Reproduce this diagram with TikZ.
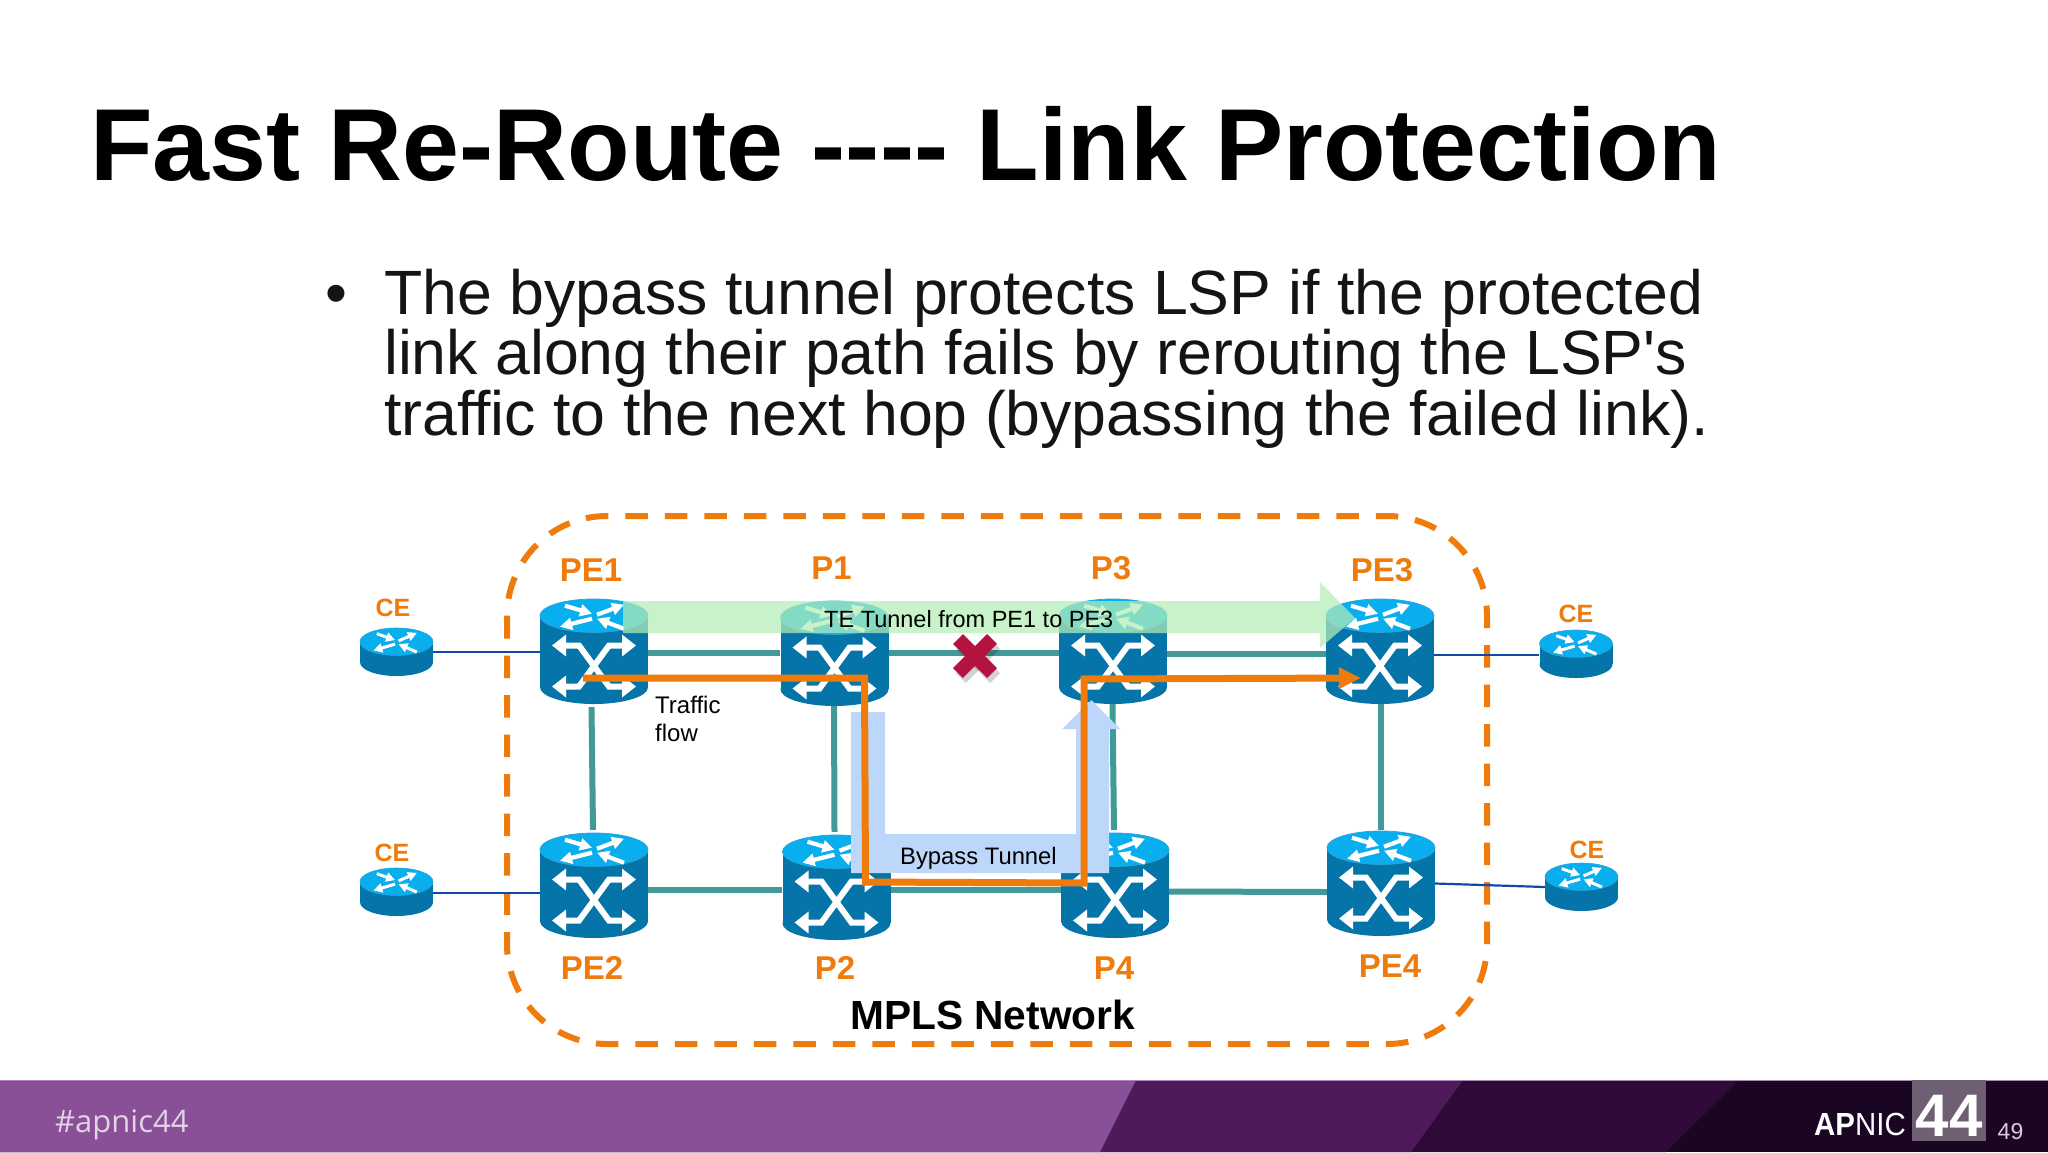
\documentclass[tikz,border=0pt]{standalone}
\usepackage{fontspec}
\setmainfont{Liberation Sans}
\newfontfamily\lsans{Liberation Sans}
\newfontfamily\footfont{Open Sans}
\usetikzlibrary{arrows.meta}
\definecolor{rbody}{HTML}{0575A9}
\definecolor{rtop}{HTML}{08AEEE}
\definecolor{rrim}{HTML}{2AA6D6}
\definecolor{linkteal}{HTML}{3F9A98}
\definecolor{linkblue}{HTML}{1248A8}
\definecolor{apnicorange}{HTML}{EE7B0C}
\definecolor{greenarrow}{HTML}{B4EDB6}
\definecolor{bluearrow}{HTML}{BDD7FB}
\definecolor{crossred}{HTML}{B5133F}
\definecolor{bandA}{HTML}{8A5097}
\definecolor{bandB}{HTML}{4E1A5A}
\definecolor{bandC}{HTML}{2E0A36}
\definecolor{bandD}{HTML}{1A0522}
\definecolor{bandsq}{HTML}{6F5F72}
\tikzset{
  fs/.style={font=\lsans\fontsize{#1}{#1}\selectfont},
  fsb/.style={font=\lsans\fontsize{#1}{#1}\selectfont\bfseries},
  orangelabel/.style={text=apnicorange,inner sep=0pt,anchor=base},
  plain/.style={inner sep=0pt,anchor=base west,text=black},
  routerbox/.style={inner sep=0pt,draw=none,fill=none},
  tealink/.style={draw=linkteal,line width=6pt},
  bluelink/.style={draw=linkblue,line width=2.2pt},
  trafficpath/.style={draw=apnicorange,line width=7pt,line join=miter},
}
\newcommand\routerglyph[4]{%
  \begin{scope}[xscale=#1,yscale=#2,white,line width=#3pt]
    \draw[-{Triangle[length=#4pt,width=#4pt]}] (-29,-10) -- (-2,-2);
    \draw[-{Triangle[length=#4pt,width=#4pt]}] (3,-1) -- (30,-11);
    \draw[-{Triangle[length=#4pt,width=#4pt]}] (-2,3) -- (-34,11);
    \draw[-{Triangle[length=#4pt,width=#4pt]}] (30,13) -- (3,3);
  \end{scope}}
\newcommand\bigrouter[3]{%
  \begin{scope}[shift={(#2,#3)}]
    \node[routerbox,minimum width=108pt,minimum height=105pt] (#1) at (0,52.5) {};
    \fill[rbody] (-54,16.7) rectangle (54,88.3);
    \fill[rbody] (0,88.3) ellipse (54 and 16.7);
    \fill[rtop,draw=rrim,line width=.8pt] (0,16.7) ellipse (54 and 16.7);
    \begin{scope}[shift={(0,16.7)}]\routerglyph{1}{1}{4.2}{12}\end{scope}
    \draw[white,line width=6pt,line join=miter,{Triangle[length=14pt,width=21pt]}-{Triangle[length=14pt,width=21pt]}]
      (-42,46.5) -- (-15,46.5) -- (15,87.5) -- (42,87.5);
    \draw[white,line width=6pt,line join=miter,{Triangle[length=14pt,width=21pt]}-{Triangle[length=14pt,width=21pt]}]
      (42,46.5) -- (15,46.5) -- (-15,87.5) -- (-42,87.5);
  \end{scope}}
\newcommand\smallrouter[3]{%
  \begin{scope}[shift={(#2,#3)}]
    \node[routerbox,minimum width=73pt,minimum height=48pt] (#1) at (0,24) {};
    \fill[rbody] (-36.5,13.7) rectangle (36.5,34.3);
    \fill[rbody] (0,34.3) ellipse (36.5 and 13.7);
    \fill[rtop,draw=rrim,line width=.6pt] (0,13.7) ellipse (36.5 and 13.7);
    \begin{scope}[shift={(0,13.7)}]\routerglyph{.68}{.8}{3}{9}\end{scope}
  \end{scope}}
\begin{document}
\begin{tikzpicture}[x=1pt,y=-1pt]
\useasboundingbox (0,0) rectangle (2048,1152);
\fill[white] (0,0) rectangle (2048,1152);
% footer
\fill[bandD] (0,1080) rectangle (2048,1152);
\fill[bandC] (0,1080) -- (1739,1080) -- (1666,1152) -- (0,1152) -- cycle;
\fill[bandB] (0,1080) -- (1463,1080) -- (1411,1152) -- (0,1152) -- cycle;
\fill[bandA] (0,1080) -- (1136,1080) -- (1100,1152) -- (0,1152) -- cycle;
\fill[bandA!70!white] (0,1079.5) rectangle (2048,1081);
\fill[bandsq] (1912,1080) rectangle (1986,1141);
\node[inner sep=0pt,anchor=base west,text=white!75!bandA,font=\footfont\fontsize{31}{31}\selectfont] (hash) at (55,1132) {\#apnic44};
\node[inner sep=0pt,anchor=base east,text=white,xscale=.92] (apnic) at (1906,1135) {\lsans\fontsize{32}{32}\selectfont\bfseries AP\mdseries NIC};
\node[inner sep=0pt,anchor=base,text=white,fsb=60] (num) at (1949,1136) {44};
\node[inner sep=0pt,anchor=base,text=white!70!bandA,fs=23] (page) at (2010.5,1139) {49};
% title and text
\node[plain,fsb=102.3] (title) at (90,180) {Fast Re-Route ---- Link Protection};
\node[plain,fs=62.6,text=black!92] (bullet) at (325,314) {•};
\node[plain,fs=62.6,text=black!92] (l1) at (384,314) {The bypass tunnel protects LSP if the protected};
\node[plain,fs=62.6,text=black!92] (l2) at (384,374.5) {link along their path fails by rerouting the LSP's};
\node[plain,fs=62.6,text=black!92] (l3) at (384,435) {traffic to the next hop (bypassing the failed link).};
% network boundary
\draw[apnicorange,line width=6pt,rounded corners=100pt,dash pattern=on 22.5pt off 17pt] (507,516) rectangle (1487,1044);
% routers
\bigrouter{PE1}{594}{599}
\bigrouter{P1}{834.5}{601}
\bigrouter{P3}{1113}{599}
\bigrouter{PE3}{1380}{599}
\bigrouter{PE2}{594}{833}
\bigrouter{P2}{836.5}{835}
\bigrouter{P4}{1115}{833}
\bigrouter{PE4}{1381}{831}
\smallrouter{CEa}{396.5}{628}
\smallrouter{CEb}{396.5}{868}
\smallrouter{CEc}{1576}{630}
\smallrouter{CEd}{1581.5}{863}
% links
\draw[bluelink] (CEa.east) -- ([yshift=-.5pt]PE1.west);
\draw[bluelink] ([yshift=-1pt]CEb.east) -- ([yshift=-7.5pt]PE2.west);
\draw[bluelink] ([yshift=-3.5pt]PE3.east) -- ([yshift=-1pt]CEc.west);
\draw[bluelink] (PE4.east) -- (CEd.west);
\draw[tealink] ([yshift=-1.5pt]PE1.east) -- ([yshift=.5pt]P1.west);
\draw[tealink] ([yshift=.5pt]P1.east) -- ([yshift=-1.5pt]P3.west);
\draw[tealink] ([yshift=-2pt]P3.east) -- ([yshift=-2pt]PE3.west);
\draw[tealink] ([yshift=-4pt]PE2.east) -- ([yshift=-2pt]P2.west);
\draw[tealink] ([yshift=-2pt]P2.east) -- ([yshift=-4pt]P4.west);
\draw[tealink] ([yshift=-6pt]P4.east) -- ([yshift=-8.5pt]PE4.west);
\draw[tealink] ([xshift=-2.5pt,yshift=-3pt]PE1.south) -- ([xshift=-1pt,yshift=3pt]PE2.north);
\draw[tealink] ([xshift=-.5pt]P1.south) -- ([xshift=-2pt,yshift=3pt]P2.north);
\draw[tealink] ([xshift=-.5pt]P3.south) -- ([xshift=-1pt,yshift=3pt]P4.north);
\draw[tealink] ([xshift=1pt]PE3.south) -- ([yshift=1pt]PE4.north);
% tunnels
\fill[greenarrow,opacity=.72] (623,601) -- (1320,601) -- (1320,582) -- (1355,618) -- (1320,648) -- (1320,633) -- (623,633) -- cycle;
\fill[bluearrow] (851,712) -- (885,712) -- (885,834) -- (1076,834) -- (1076,729) -- (1062,729) -- (1091.5,700) -- (1120,729) -- (1109,729) -- (1109,873) -- (851,873) -- cycle;
% traffic flow
\coordinate (flowstart) at (583,678);
\coordinate (flowa) at (864.5,678);
\coordinate (flowb) at (865.5,882);
\coordinate (flowc) at (1084,883);
\coordinate (flowd) at (1084,679);
\coordinate (flowend) at (1361,678);
\draw[trafficpath,-{Triangle[length=22pt,width=20pt]}] (flowstart) -- (flowa) -- (flowb) -- (flowc) -- (flowd) -- (flowend);
% failure cross
\begin{scope}[shift={(3,5)},black,opacity=.18,line width=14pt]
\draw (958,639) -- (992,673); \draw (992,639) -- (958,673);
\end{scope}
\draw[crossred,line width=14pt] (958,639) -- (992,673);
\draw[crossred,line width=14pt] (992,639) -- (958,673);
% labels
\node[orangelabel,fsb=33] (lPE1) at (591,581.5) {PE1};
\node[orangelabel,fsb=33] (lP1) at (831.5,579) {P1};
\node[orangelabel,fsb=33] (lP3) at (1111,579) {P3};
\node[orangelabel,fsb=33] (lPE3) at (1382,581) {PE3};
\node[orangelabel,fsb=33] (lPE2) at (592,979) {PE2};
\node[orangelabel,fsb=33] (lP2) at (835,979) {P2};
\node[orangelabel,fsb=33] (lP4) at (1114,979) {P4};
\node[orangelabel,fsb=33] (lPE4) at (1390,977.5) {PE4};
\node[orangelabel,fsb=25] (lCEa) at (393,616) {CE};
\node[orangelabel,fsb=25] (lCEb) at (392,861) {CE};
\node[orangelabel,fsb=25] (lCEc) at (1576,622) {CE};
\node[orangelabel,fsb=25] (lCEd) at (1587,858) {CE};
\node[plain,fs=23.5] (te) at (824,627) {TE Tunnel from PE1 to PE3};
\node[plain,fs=24] (tfa) at (655,713) {Traffic};
\node[plain,fs=24] (tfb) at (655,741) {flow};
\node[plain,fs=23.8] (by) at (900,864) {Bypass Tunnel};
\node[plain,fsb=40.7] (mpls) at (850,1029) {MPLS Network};
\end{tikzpicture}
\end{document}
